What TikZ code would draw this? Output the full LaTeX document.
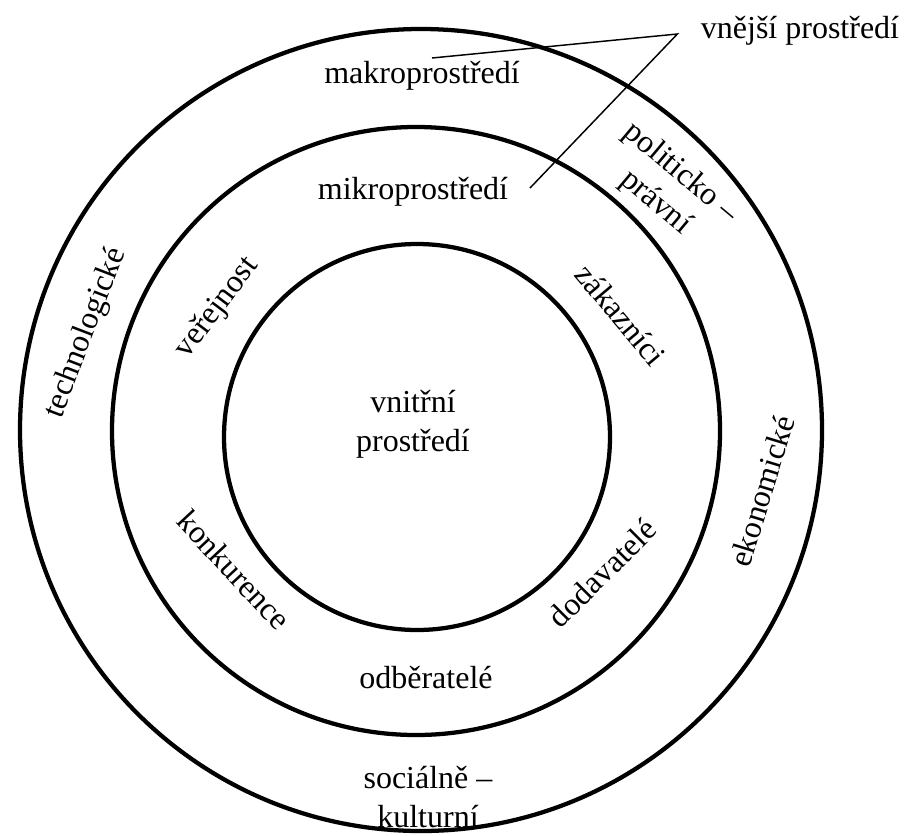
\documentclass[tikz,border=0pt]{standalone}
\usepackage{fontspec}
\setmainfont{Liberation Serif}
\newfontfamily\diagfont{Liberation Serif}

\tikzset{every picture/.style={line width=0.75pt}}
\tikzset{ring/.style={line width=3.2pt},
         lbl/.style={font=\diagfont\fontsize{24}{29}\selectfont, inner sep=0.75pt, align=center},
         pointer/.style={line width=1.1pt}}

\begin{document}
\begin{tikzpicture}[x=0.75pt,y=0.75pt,yscale=-1,xscale=1]
        \useasboundingbox (0,0) rectangle (905,835);

        %Shape: Circle [id:outer] 
        \draw [ring] (421,430) circle [radius=401];
        %Shape: Circle [id:middle] 
        \draw [ring] (416,431) circle [radius=304];
        %Shape: Circle [id:inner] 
        \draw [ring] (417,437) circle [radius=193];

        % Text Node
        \draw (800,38) node [lbl, anchor=base] (ext) {vnější prostředí};
        % Text Node
        \draw (422,83) node [lbl, anchor=base] (makro) {makroprostředí};
        % Text Node
        \draw (413,199) node [lbl, anchor=base] (mikro) {mikroprostředí};
        % Text Node
        \draw (413,424) node [lbl] (vnitrni) {vnitřní\\prostředí};
        % Text Node
        \draw (426,688) node [lbl, anchor=base] (odber) {odběratelé};
        % Text Node
        \draw (428,797) node [lbl] (socio) {sociálně –\\kulturní};
        % Text Node
        \draw (86,333) node [lbl, rotate=69] (techno) {technologické};
        % Text Node
        \draw (217,308) node [lbl, rotate=53] (verej) {veřejnost};
        % Text Node
        \draw (621,315) node [lbl, rotate=-50] (zakaz) {zákazníci};
        % Text Node
        \draw (234,570) node [lbl, rotate=-47] (konkur) {konkurence};
        % Text Node
        \draw (602,573) node [lbl, rotate=45] (dodav) {dodavatelé};
        % Text Node
        \draw (762,491) node [lbl, rotate=73] (ekonom) {ekonomické};
        % Text Node
        \draw (668,188) node [lbl, rotate=-40] (polit) {politicko –\\právní};

        %Straight Lines [id:fork] 
        \coordinate (fork) at ([shift={(-22,-4)}]ext.base west);
        \coordinate (makroEnd) at (432,58);
        \coordinate (mikroEnd) at (530,188);
        \draw [pointer] (makroEnd) -- (fork) -- (mikroEnd);

\end{tikzpicture}
\end{document}
